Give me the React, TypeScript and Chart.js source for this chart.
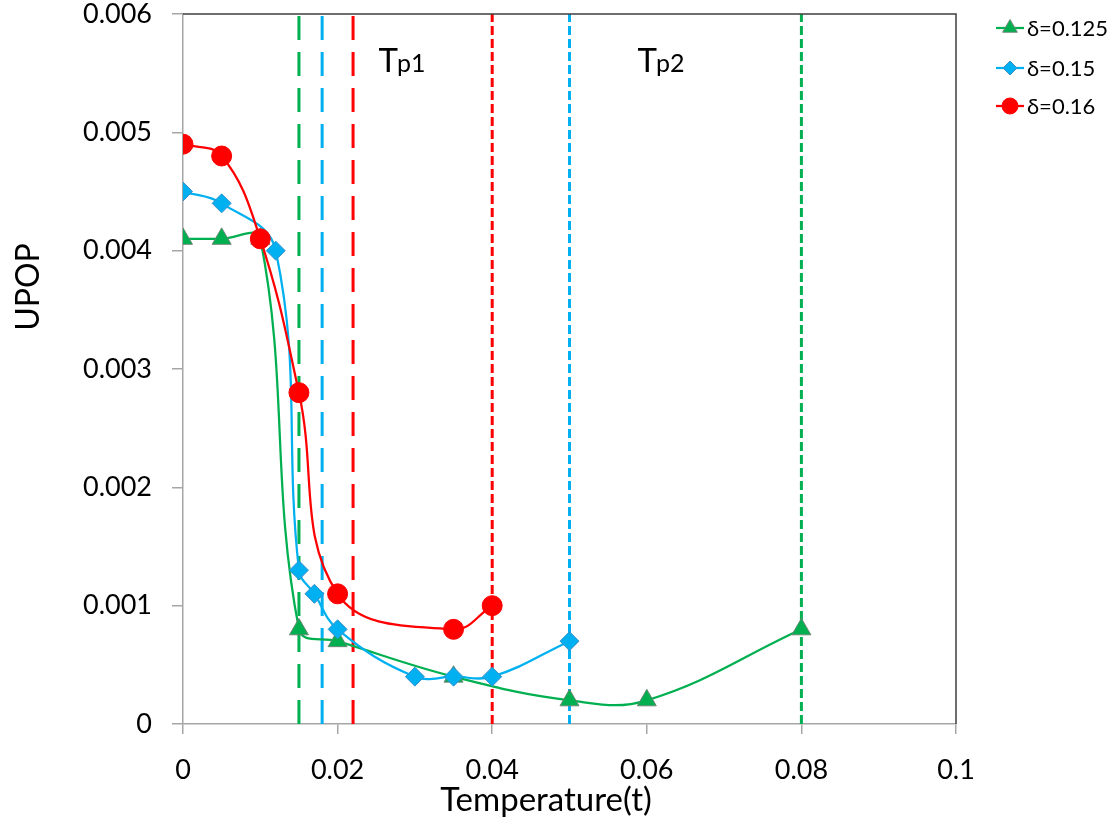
import { useEffect, useRef } from 'react';
import { Chart, registerables } from 'chart.js';
import { drawPoint } from 'chart.js/helpers';

Chart.register(...registerables);

// Series data: temperature t vs. UPOP
const tGreen = [0, 0.005, 0.01, 0.015, 0.02, 0.035, 0.05, 0.06, 0.08];
const upopGreen = [0.0041, 0.0041, 0.0041, 0.0008, 0.0007, 0.0004, 0.0002, 0.0002, 0.0008];

const tBlue = [0, 0.005, 0.012, 0.015, 0.017, 0.02, 0.03, 0.035, 0.04, 0.05];
const upopBlue = [0.0045, 0.0044, 0.004, 0.0013, 0.0011, 0.0008, 0.0004, 0.0004, 0.0004, 0.0007];

const tRed = [0, 0.005, 0.01, 0.015, 0.02, 0.035, 0.04];
const upopRed = [0.0049, 0.0048, 0.0041, 0.0028, 0.0011, 0.0008, 0.001];

const seriesLabels = ['δ=0.125', 'δ=0.15', 'δ=0.16'];

// Transition temperatures (vertical dashed markers), order: δ=0.125, 0.15, 0.16
const tp1Marks = [0.015, 0.018, 0.022];
const tp2Marks = [0.08, 0.05, 0.04];
const tpLabels = ['p1', 'p2'];

const xTicks = [0, 0.02, 0.04, 0.06, 0.08, 0.1];
const yTicks = [0, 0.001, 0.002, 0.003, 0.004, 0.005, 0.006];

const GREEN = '#00B050';
const BLUE = '#00B0F0';
const RED = '#FF0000';
const colors = [GREEN, BLUE, RED];
const pointStyles = ['triangle', 'rectRot', 'circle'];
const pointRadii = [11, 9.5, 10];
const pointBorders = ['rgba(110,130,115,0.9)', '#3A8FCB', RED];

const FONT = 'Lato, "Open Sans", "Liberation Sans", sans-serif';

const fmt = (v: number) => String(+Number(v).toFixed(4));

const toPts = (xs: number[], ys: number[]) => xs.map((x, i) => ({ x, y: ys[i] }));

const vLine = (x: number, color: string, dash: number[]) => ({
  label: '',
  data: [
    { x, y: yTicks[0] },
    { x, y: yTicks[yTicks.length - 1] },
  ],
  showLine: true,
  borderColor: color,
  borderWidth: 3,
  borderDash: dash,
  pointRadius: 0,
  tension: 0,
  order: 10,
});

const decorPlugin = {
  id: 'decor',
  afterDatasetsDraw(chart: any) {
    const { ctx, chartArea: a } = chart;
    ctx.save();
    ctx.strokeStyle = '#3f3f3f';
    ctx.lineWidth = 1.5;
    ctx.beginPath();
    ctx.moveTo(a.left, a.top);
    ctx.lineTo(a.right, a.top);
    ctx.lineTo(a.right, a.bottom);
    ctx.stroke();
    ctx.restore();
  },
  afterDraw(chart: any) {
    const { ctx, scales } = chart;
    const xs = scales.x;
    const ys = scales.y;
    ctx.save();

    // Tp annotations
    const tpX = [0.0253, 0.0588];
    const tpY = 0.00551;
    tpLabels.forEach((sub, i) => {
      const px = xs.getPixelForValue(tpX[i]);
      const py = ys.getPixelForValue(tpY);
      ctx.fillStyle = '#000';
      ctx.textBaseline = 'alphabetic';
      ctx.textAlign = 'left';
      ctx.font = `33px ${FONT}`;
      ctx.fillText('T', px, py);
      const w = ctx.measureText('T').width;
      ctx.font = `25px ${FONT}`;
      ctx.fillText(sub, px + w - 1, py);
    });

    // Axis titles
    ctx.fillStyle = '#000';
    ctx.textAlign = 'center';
    ctx.textBaseline = 'middle';
    ctx.font = `33px ${FONT}`;
    ctx.fillText('Temperature(t)', 546, 800);
    ctx.save();
    ctx.translate(29, 287);
    ctx.rotate(-Math.PI / 2);
    ctx.font = `32px ${FONT}`;
    ctx.fillText('UPOP', 0, 0);
    ctx.restore();

    // Legend
    const legendY = [28, 68, 106];
    const legendRadii = [8.5, 7, 8];
    seriesLabels.forEach((label, i) => {
      const y = legendY[i];
      ctx.strokeStyle = colors[i];
      ctx.lineWidth = 2.25;
      ctx.setLineDash([]);
      ctx.beginPath();
      ctx.moveTo(996, y);
      ctx.lineTo(1024, y);
      ctx.stroke();
      ctx.fillStyle = colors[i];
      ctx.strokeStyle = pointBorders[i];
      ctx.lineWidth = 1;
      drawPoint(ctx, { pointStyle: pointStyles[i], rotation: 0, radius: legendRadii[i], borderWidth: 1 } as any, 1010, y);
      ctx.fillStyle = '#000';
      ctx.textAlign = 'left';
      ctx.textBaseline = 'middle';
      ctx.font = `22px ${FONT}`;
      ctx.fillText(label, 1027, y + 1);
    });
    ctx.restore();
  },
};

export default function App() {
  const canvasRef = useRef<HTMLCanvasElement | null>(null);

  useEffect(() => {
    const canvas = canvasRef.current;
    if (!canvas) return;

    const seriesX = [tGreen, tBlue, tRed];
    const seriesY = [upopGreen, upopBlue, upopRed];
    const series = seriesLabels.map((label, i) => ({
      label,
      data: toPts(seriesX[i], seriesY[i]),
      showLine: true,
      borderColor: colors[i],
      backgroundColor: colors[i],
      borderWidth: 2.25,
      tension: 0.4,
      pointStyle: pointStyles[i],
      pointRadius: pointRadii[i],
      pointBackgroundColor: colors[i],
      pointBorderColor: pointBorders[i],
      pointBorderWidth: 1,
      order: 3 - i,
    }));

    const tp1Dash = [24, 12];
    const tp2Dash = [9, 4];
    const marks = [
      ...tp1Marks.map((x, i) => vLine(x, colors[i], tp1Dash)),
      ...tp2Marks.map((x, i) => vLine(x, colors[i], tp2Dash)),
    ];

    const chart = new Chart(canvas, {
      type: 'scatter',
      data: { datasets: [...marks, ...series] as any },
      options: {
        responsive: false,
        animation: false,
        devicePixelRatio: 1,
        layout: { padding: { left: 0, right: 160, top: 14, bottom: 0 } },
        plugins: {
          legend: { display: false },
          tooltip: { enabled: false },
        },
        scales: {
          x: {
            type: 'linear',
            min: xTicks[0],
            max: xTicks[xTicks.length - 1],
            afterBuildTicks: (s: any) => {
              s.ticks = xTicks.map((value) => ({ value }));
            },
            afterFit: (s: any) => {
              s.height = 101;
              s.paddingLeft = 0;
              s.paddingRight = 0;
            },
            ticks: {
              callback: (v: any) => fmt(v),
              font: { family: FONT, size: 27 },
              color: '#000',
              padding: 20,
              maxRotation: 0,
              autoSkip: false,
            },
            grid: {
              drawOnChartArea: false,
              drawTicks: true,
              tickLength: 10,
              color: '#a6a6a6',
              lineWidth: 1.5,
            },
            border: { display: true, color: '#a6a6a6', width: 1.5 },
          },
          y: {
            type: 'linear',
            min: yTicks[0],
            max: yTicks[yTicks.length - 1],
            afterBuildTicks: (s: any) => {
              s.ticks = yTicks.map((value) => ({ value }));
            },
            afterFit: (s: any) => {
              s.width = 183;
              s.paddingTop = 0;
              s.paddingBottom = 0;
            },
            ticks: {
              callback: (v: any) => fmt(v),
              font: { family: FONT, size: 27 },
              color: '#000',
              padding: 20,
              autoSkip: false,
            },
            grid: {
              drawOnChartArea: false,
              drawTicks: true,
              tickLength: 11,
              color: '#a6a6a6',
              lineWidth: 1.5,
            },
            border: { display: true, color: '#a6a6a6', width: 1.5 },
          },
        },
      },
      plugins: [decorPlugin],
    });

    return () => chart.destroy();
  }, []);

  return (
    <div style={{ position: 'absolute', left: 0, top: 0, width: 1116, height: 825, background: '#fff' }}>
      <canvas ref={canvasRef} width={1116} height={825} style={{ display: 'block' }} />
    </div>
  );
}
